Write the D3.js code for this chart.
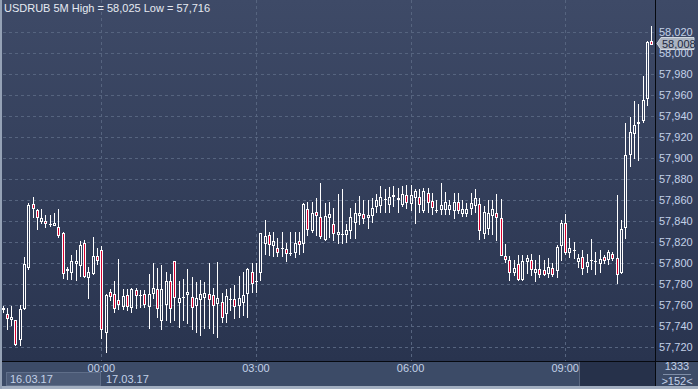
<!DOCTYPE html>
<html>
<head>
<meta charset="utf-8">
<script src="https://cdn.jsdelivr.net/npm/d3@7"></script>
<style>
  html, body { margin: 0; padding: 0; background: #2a3550; overflow: hidden; }
  svg { display: block; }
</style>
</head>
<body>
<script>
// USDRUB 5M candles, 16.03.17 22:05 .. 17.03.17 10:40
var symbol = "USDRUB";
var period = "5M";
var startTime = new Date(2017, 2, 16, 22, 5);

var open = [
  57.756,57.752,57.747,57.746,57.728,57.757,57.796,57.856,57.850,57.840,
  57.840,57.837,57.836,57.834,57.829,57.793,57.792,57.800,57.798,57.819,
  57.787,57.791,57.807,57.812,57.735,57.773,57.771,57.765,57.759,57.770,
  57.758,57.774,57.770,57.771,57.759,57.772,57.775,57.746,57.761,57.783,
  57.802,57.763,57.768,57.771,57.768,57.760,57.766,57.768,57.771,57.770,
  57.762,57.763,57.753,57.766,57.766,57.760,57.763,57.772,57.792,57.783,
  57.792,57.819,57.827,57.817,57.814,57.814,57.813,57.810,57.811,57.821,
  57.819,57.851,57.831,57.849,57.844,57.823,57.844,57.837,57.828,57.828,
  57.828,57.831,57.839,57.846,57.847,57.844,57.846,57.854,57.855,57.861,
  57.856,57.864,57.861,57.856,57.865,57.857,57.863,57.863,57.850,57.867,
  57.859,57.850,57.851,57.851,57.851,57.850,57.858,57.848,57.848,57.852,
  57.855,57.856,57.829,57.833,57.846,57.848,57.843,57.807,57.803,57.792,
  57.799,57.785,57.802,57.803,57.792,57.794,57.793,57.791,57.795,57.793,
  57.817,57.838,57.811,57.812,57.802,57.806,57.797,57.803,57.802,57.800,
  57.806,57.804,57.809,57.805,57.792,57.834,57.904,57.924,57.933,57.936,
  57.957,58.011
];
var high = [
  57.759,57.757,57.759,57.746,57.760,57.806,57.857,57.863,57.851,57.851,
  57.846,57.846,57.848,57.851,57.830,57.796,57.808,57.812,57.821,57.822,
  57.796,57.825,57.814,57.816,57.771,57.775,57.783,57.804,57.775,57.775,
  57.776,57.776,57.774,57.774,57.790,57.800,57.795,57.798,57.792,57.790,
  57.802,57.783,57.785,57.794,57.787,57.782,57.784,57.782,57.800,57.776,
  57.801,57.772,57.775,57.776,57.779,57.788,57.792,57.795,57.800,57.800,
  57.829,57.841,57.830,57.830,57.824,57.830,57.819,57.830,57.830,57.830,
  57.857,57.858,57.858,57.862,57.876,57.857,57.858,57.852,57.866,57.870,
  57.837,57.852,57.857,57.864,57.860,57.860,57.862,57.866,57.873,57.870,
  57.872,57.873,57.871,57.873,57.874,57.874,57.870,57.870,57.871,57.871,
  57.867,57.860,57.876,57.868,57.860,57.867,57.867,57.860,57.857,57.867,
  57.870,57.862,57.854,57.860,57.860,57.866,57.861,57.818,57.807,57.803,
  57.808,57.808,57.808,57.809,57.803,57.808,57.803,57.805,57.800,57.817,
  57.841,57.847,57.824,57.820,57.809,57.812,57.809,57.823,57.811,57.812,
  57.808,57.812,57.811,57.865,57.841,57.933,57.939,57.954,57.951,57.978,
  58.011,58.025
];
var low = [
  57.754,57.737,57.741,57.722,57.722,57.756,57.794,57.844,57.832,57.838,
  57.834,57.835,57.836,57.825,57.786,57.785,57.785,57.784,57.788,57.787,
  57.767,57.790,57.799,57.729,57.716,57.765,57.754,57.756,57.756,57.755,
  57.754,57.757,57.758,57.758,57.738,57.767,57.749,57.737,57.746,57.744,
  57.746,57.739,57.746,57.743,57.737,57.735,57.732,57.738,57.738,57.734,
  57.730,57.744,57.744,57.755,57.748,57.749,57.751,57.749,57.773,57.773,
  57.784,57.809,57.808,57.807,57.807,57.807,57.802,57.808,57.806,57.809,
  57.811,57.827,57.830,57.827,57.824,57.822,57.825,57.822,57.819,57.819,
  57.820,57.824,57.824,57.837,57.838,57.833,57.839,57.849,57.849,57.849,
  57.849,57.854,57.849,57.854,57.852,57.850,57.838,57.849,57.849,57.849,
  57.847,57.849,57.847,57.847,57.847,57.843,57.848,57.845,57.845,57.847,
  57.849,57.823,57.824,57.828,57.828,57.822,57.808,57.801,57.784,57.789,
  57.784,57.784,57.791,57.789,57.783,57.787,57.789,57.787,57.788,57.787,
  57.803,57.809,57.806,57.805,57.796,57.790,57.792,57.794,57.790,57.792,
  57.800,57.799,57.803,57.781,57.791,57.824,57.892,57.900,57.898,57.934,
  57.950,58.008
];
var close = [
  57.757,57.748,57.749,57.723,57.756,57.799,57.855,57.852,57.844,57.843,
  57.838,57.837,57.838,57.827,57.791,57.794,57.802,57.802,57.817,57.788,
  57.792,57.807,57.803,57.737,57.770,57.769,57.757,57.761,57.769,57.759,
  57.775,57.770,57.770,57.761,57.771,57.776,57.757,57.775,57.783,57.757,
  57.768,57.767,57.768,57.773,57.758,57.767,57.771,57.772,57.766,57.760,
  57.767,57.749,57.769,57.766,57.759,57.767,57.770,57.794,57.781,57.783,
  57.829,57.826,57.818,57.821,57.811,57.814,57.810,57.810,57.819,57.818,
  57.856,57.832,57.848,57.846,57.826,57.845,57.847,57.829,57.830,57.828,
  57.831,57.844,57.848,57.848,57.843,57.846,57.852,57.860,57.863,57.861,
  57.863,57.865,57.862,57.866,57.858,57.865,57.869,57.856,57.869,57.858,
  57.853,57.850,57.855,57.858,57.855,57.858,57.850,57.851,57.851,57.857,
  57.862,57.831,57.849,57.848,57.851,57.844,57.808,57.804,57.792,57.795,
  57.785,57.802,57.805,57.794,57.794,57.790,57.790,57.796,57.790,57.815,
  57.838,57.811,57.814,57.812,57.805,57.795,57.801,57.803,57.802,57.804,
  57.803,57.811,57.805,57.790,57.832,57.903,57.925,57.931,57.934,57.955,
  58.010,58.008
];

var yTicks = [57.72,57.74,57.76,57.78,57.80,57.82,57.84,57.86,57.88,57.90,57.92,57.94,57.96,57.98,58.00,58.02];
var timeLabels = ["00:00", "03:00", "06:00", "09:00"];
var dateLabels = ["16.03.17", "17.03.17"];
var lastPrice = 58.008;
var barsInfo = ["1333", ">152<"];

var width = 698, height = 389;
var plotRight = 655, plotBottom = 361;
var font = "'Liberation Sans Narrow', 'Arial Narrow', 'Liberation Sans', Arial, sans-serif";
var labelColor = "#c3d1e8";

var parseTime = d3.timeParse("%d.%m.%y %H:%M");
var fmt = function(v){ return d3.format(".3f")(v).replace(".", ","); };

var candles = open.map(function(d, i){
  return { t: d3.timeMinute.offset(startTime, 5*i), o: open[i], h: high[i], l: low[i], c: close[i] };
});

var x = d3.scaleTime()
  .domain([parseTime("17.03.17 00:00"), parseTime("17.03.17 09:00")])
  .range([101.3, 565.2]);
var y = d3.scaleLinear()
  .domain([57.72, 58.02])
  .range([347.3, 31.6]);

var svg = d3.select("body").append("svg")
  .attr("width", width)
  .attr("height", height);

var grad = svg.append("defs").append("linearGradient")
  .attr("id", "bg")
  .attr("x1", 0).attr("y1", 0).attr("x2", 0).attr("y2", 1);
grad.append("stop").attr("offset", "0%").attr("stop-color", "#3e4a67");
grad.append("stop").attr("offset", "100%").attr("stop-color", "#29344f");

svg.append("rect")
  .attr("x", 0).attr("y", 0)
  .attr("width", width).attr("height", plotBottom)
  .attr("fill", "url(#bg)");

// grid
svg.selectAll("line.hgrid")
  .data(yTicks).enter()
  .append("line")
  .attr("class", "hgrid")
  .attr("x1", 3).attr("x2", plotRight)
  .attr("y1", function(d){ return Math.round(y(d)) + 0.5; })
  .attr("y2", function(d){ return Math.round(y(d)) + 0.5; })
  .attr("stroke", "#56647f")
  .attr("stroke-dasharray", "3,3");

svg.selectAll("line.vgrid")
  .data(timeLabels).enter()
  .append("line")
  .attr("class", "vgrid")
  .attr("x1", function(d){ return Math.round(x(parseTime("17.03.17 " + d))) + 0.5; })
  .attr("x2", function(d){ return Math.round(x(parseTime("17.03.17 " + d))) + 0.5; })
  .attr("y1", 0).attr("y2", plotBottom)
  .attr("stroke", "#56647f")
  .attr("stroke-dasharray", "3,3");

// candles
var g = svg.append("g");
candles.forEach(function(d){
  var px = Math.round(x(d.t));
  var top = Math.round(y(Math.max(d.o, d.c)));
  var bot = Math.round(y(Math.min(d.o, d.c)));
  var down = d.c < d.o;
  g.append("line")
    .attr("x1", px + 0.5).attr("x2", px + 0.5)
    .attr("y1", Math.round(y(d.h))).attr("y2", top)
    .attr("stroke", "#ffffff");
  g.append("line")
    .attr("x1", px + 0.5).attr("x2", px + 0.5)
    .attr("y1", bot + 1).attr("y2", Math.round(y(d.l)) + 1)
    .attr("stroke", "#ffffff");
  if (bot - top < 1) {
    g.append("line")
      .attr("x1", px - 1).attr("x2", px + 2)
      .attr("y1", top + 0.5).attr("y2", top + 0.5)
      .attr("stroke", "#ffffff");
  } else {
    g.append("rect")
      .attr("x", px - 0.5).attr("y", top + 0.5)
      .attr("width", 2).attr("height", bot - top)
      .attr("fill", down ? "#d8002e" : "none")
      .attr("stroke", "#ffffff");
  }
});

// title
svg.append("text")
  .attr("x", 4).attr("y", 12)
  .text(symbol + " " + period + " High = " + fmt(d3.max(high)) + " Low = " + fmt(d3.min(low)))
  .attr("font-family", font)
  .attr("font-size", "11px")
  .attr("fill", "#e6eaf2");

// right axis
svg.append("line")
  .attr("x1", plotRight + 0.5).attr("x2", plotRight + 0.5)
  .attr("y1", 0).attr("y2", 386)
  .attr("stroke", "#06090f");

svg.selectAll("text.ylabel")
  .data(yTicks).enter()
  .append("text")
  .attr("class", "ylabel")
  .attr("x", 659)
  .attr("y", function(d){ return y(d) + 4; })
  .text(function(d){ return fmt(d); })
  .attr("font-family", font)
  .attr("font-size", "11px")
  .attr("fill", labelColor);

// last price marker (drawn over the 58,000 label, as in the terminal)
var ly = Math.round(y(lastPrice)) - 0.5;
svg.append("path")
  .attr("d", "M657," + ly + " L661," + (ly - 6) + " L694," + (ly - 6) + " L694," + (ly + 6) + " L661," + (ly + 6) + " Z")
  .attr("fill", "#aab3c1")
  .attr("stroke", "#d2d8e0");
svg.append("text")
  .attr("x", 662).attr("y", ly + 4)
  .text(fmt(lastPrice))
  .attr("font-family", font)
  .attr("font-size", "11px")
  .attr("fill", "#1c2840");

// bottom time strip
svg.append("rect")
  .attr("x", 0).attr("y", plotBottom)
  .attr("width", width).attr("height", 25)
  .attr("fill", "#3c4b67");
svg.append("line")
  .attr("x1", 0).attr("x2", width)
  .attr("y1", plotBottom + 0.5).attr("y2", plotBottom + 0.5)
  .attr("stroke", "#06090f");
svg.append("line")
  .attr("x1", plotRight + 0.5).attr("x2", plotRight + 0.5)
  .attr("y1", plotBottom).attr("y2", 386)
  .attr("stroke", "#06090f");

svg.append("rect")
  .attr("x", 580).attr("y", 362)
  .attr("width", 75).attr("height", 24)
  .attr("fill", "#26314a");
svg.append("line")
  .attr("x1", 579.5).attr("x2", 579.5)
  .attr("y1", 362).attr("y2", 386)
  .attr("stroke", "#59667e");

svg.selectAll("text.xlabel")
  .data(timeLabels).enter()
  .append("text")
  .attr("class", "xlabel")
  .attr("x", function(d){ return x(parseTime("17.03.17 " + d)); })
  .attr("y", 372)
  .text(function(d){ return d; })
  .attr("text-anchor", "middle")
  .attr("font-family", font)
  .attr("font-size", "11px")
  .attr("fill", labelColor);

svg.append("rect")
  .attr("x", 6.5).attr("y", 372.5)
  .attr("width", 94).attr("height", 13)
  .attr("fill", "#4b5a76")
  .attr("stroke", "#5f6e89");
svg.append("text")
  .attr("x", 10).attr("y", 383)
  .text(dateLabels[0])
  .attr("font-family", font)
  .attr("font-size", "11px")
  .attr("fill", labelColor);
svg.append("text")
  .attr("x", 106).attr("y", 383)
  .text(dateLabels[1])
  .attr("font-family", font)
  .attr("font-size", "11px")
  .attr("fill", labelColor);

svg.append("text")
  .attr("x", 677).attr("y", 370)
  .text(barsInfo[0])
  .attr("text-anchor", "middle")
  .attr("font-family", font)
  .attr("font-size", "11px")
  .attr("fill", labelColor);
svg.append("line")
  .attr("x1", 663).attr("x2", 691)
  .attr("y1", 374.5).attr("y2", 374.5)
  .attr("stroke", "#7f8ea8");
svg.append("text")
  .attr("x", 677).attr("y", 384.5)
  .text(barsInfo[1])
  .attr("text-anchor", "middle")
  .attr("font-family", font)
  .attr("font-size", "11px")
  .attr("fill", labelColor);

// outer frame
svg.append("rect")
  .attr("x", 0).attr("y", 386)
  .attr("width", width).attr("height", 3)
  .attr("fill", "#a2aec0");
svg.append("rect")
  .attr("x", 0).attr("y", 0)
  .attr("width", 2).attr("height", height)
  .attr("fill", "#95a2b6");
</script>
</body>
</html>
